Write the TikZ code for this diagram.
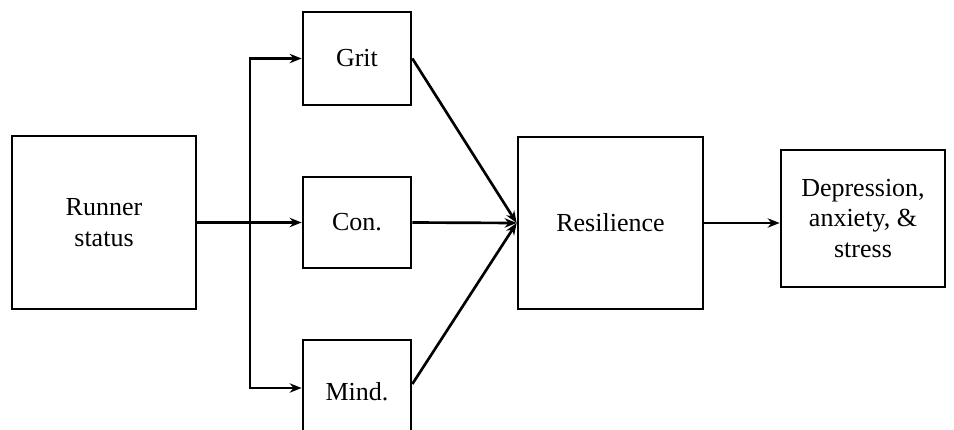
\documentclass[tikz,border=0pt]{standalone}
\usepackage{fontspec}
\setmainfont{Liberation Serif}
\usetikzlibrary{positioning,arrows.meta}

\begin{document}
\begin{tikzpicture}[x=0.75pt, y=-0.75pt, ->, >={Stealth[length=9pt,width=7pt]}, line width=2pt,
  box node/.style={rectangle, draw, font=\fontsize{19.5}{23}\selectfont, align=center, inner sep=0pt}]
  \useasboundingbox (0,0) rectangle (954,429);

  % Define nodes
  \node[box node, minimum width=138pt, minimum height=129.75pt] (runner) at (104,222.5) {Runner\\status};
  \node[box node, minimum width=81pt, minimum height=69.75pt] (grit) at (357,58.5) {Grit};
  \node[box node, minimum width=81pt, minimum height=68.25pt] (con) at (357,222.5) {Con.};
  \node[box node, minimum width=81pt, minimum height=78pt] (mind) at (357,392) {Mind.};
  \node[box node, minimum width=138.75pt, minimum height=129pt] (res) at (610.5,223) {Resilience};
  \node[box node, minimum width=123pt, minimum height=102.75pt] (dep) at (863,218.5) {Depression,\\anxiety, \&\\stress};
  \coordinate (split) at (250,222.5);

  % Define edges
  \draw (runner.east) -- (con.west);
  \draw (split) |- (grit.west);
  \draw (split) |- ([yshift=3pt]mind.west);
  \draw (grit.east) -- (res.west);
  \draw (con.east) -- (res.west);
  \draw ([yshift=6pt]mind.east) -- (res.west);
  \draw (res.east) -- (res.east -| dep.west);
\end{tikzpicture}
\end{document}
